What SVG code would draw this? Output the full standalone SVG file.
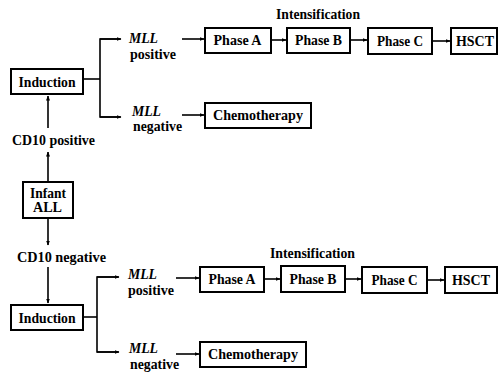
<svg xmlns="http://www.w3.org/2000/svg" width="500" height="374" viewBox="0 0 500 374">
<defs>
<marker id="ah" viewBox="0 0 10 10" refX="9" refY="5" markerWidth="5" markerHeight="5" orient="auto" markerUnits="userSpaceOnUse">
<path d="M0,1 L10,5 L0,9 z" fill="#000"/>
</marker>
<style>
.box{fill:#fff;stroke:#000;stroke-width:2}
.t{font-family:"Liberation Serif","Times New Roman",serif;font-weight:bold;font-size:14px;fill:#000}
.c{text-anchor:middle}
.i{font-style:italic}
.ln{fill:none;stroke:#000;stroke-width:1.6}
.ar{fill:none;stroke:#000;stroke-width:1.6;marker-end:url(#ah)}
</style>
</defs>
<rect width="500" height="374" fill="#fff"/>

<g id="connectors">
<line class="ar" x1="48" y1="128" x2="48" y2="96"/>
<line class="ar" x1="48" y1="181" x2="48" y2="152"/>
<polyline class="ln" points="83,79 100,79"/>
<polyline class="ln" points="120,39 100,39 100,117 120,117"/>
<line class="ar" x1="100" y1="39" x2="121" y2="39"/>
<line class="ar" x1="100" y1="117" x2="121" y2="117"/>
<line class="ar" x1="182" y1="39" x2="204" y2="39"/>
<line class="ar" x1="182" y1="115" x2="204" y2="115"/>
<line class="ar" x1="271" y1="40" x2="286" y2="40"/>
<line class="ar" x1="350" y1="40" x2="367" y2="40"/>
<line class="ar" x1="432" y1="41" x2="450" y2="41"/>
<line class="ar" x1="48" y1="219" x2="48" y2="245"/>
<line class="ar" x1="48" y1="267" x2="48" y2="303"/>
<polyline class="ln" points="83,317 97,317"/>
<polyline class="ln" points="118,277 97,277 97,352 118,352"/>
<line class="ar" x1="97" y1="277" x2="119" y2="277"/>
<line class="ar" x1="97" y1="352" x2="119" y2="352"/>
<line class="ar" x1="176" y1="278" x2="199" y2="278"/>
<line class="ar" x1="176" y1="354" x2="199" y2="354"/>
<line class="ar" x1="264" y1="279" x2="280" y2="279"/>
<line class="ar" x1="345" y1="279" x2="361" y2="279"/>
<line class="ar" x1="427" y1="280" x2="444" y2="280"/>
</g>

<g id="induction-top">
<rect class="box" x="11" y="69" width="72" height="25"/>
<text class="t c" x="47" y="87" textLength="57" lengthAdjust="spacingAndGlyphs">Induction</text>
</g>
<g id="cd10-positive">
<text class="t" x="12" y="145" textLength="83" lengthAdjust="spacingAndGlyphs">CD10 positive</text>
</g>
<g id="mll-positive-top">
<text class="t i" x="129" y="43" textLength="29" lengthAdjust="spacingAndGlyphs">MLL</text>
<text class="t" x="130" y="59" textLength="46" lengthAdjust="spacingAndGlyphs">positive</text>
</g>
<g id="mll-negative-top">
<text class="t i" x="132" y="116" textLength="29" lengthAdjust="spacingAndGlyphs">MLL</text>
<text class="t" x="133" y="131" textLength="49" lengthAdjust="spacingAndGlyphs">negative</text>
</g>
<g id="intensification-top">
<text class="t" x="276" y="19" textLength="84" lengthAdjust="spacingAndGlyphs">Intensification</text>
</g>
<g id="phaseA-top">
<rect class="box" x="205" y="28" width="66" height="25"/>
<text class="t c" x="237.5" y="45" textLength="48" lengthAdjust="spacingAndGlyphs">Phase A</text>
</g>
<g id="phaseB-top">
<rect class="box" x="287" y="28" width="63" height="25"/>
<text class="t c" x="318.5" y="45" textLength="47" lengthAdjust="spacingAndGlyphs">Phase B</text>
</g>
<g id="phaseC-top">
<rect class="box" x="368" y="28" width="64" height="26"/>
<text class="t c" x="400" y="46" textLength="46" lengthAdjust="spacingAndGlyphs">Phase C</text>
</g>
<g id="hsct-top">
<rect class="box" x="451" y="28" width="46" height="26"/>
<text class="t c" x="475" y="46" textLength="38" lengthAdjust="spacingAndGlyphs">HSCT</text>
</g>
<g id="chemo-top">
<rect class="box" x="205" y="103" width="106" height="25"/>
<text class="t c" x="258" y="120" textLength="90" lengthAdjust="spacingAndGlyphs">Chemotherapy</text>
</g>

<g id="infant-all">
<rect class="box" x="23" y="182" width="50" height="36"/>
<text class="t c" x="48" y="198" textLength="36" lengthAdjust="spacingAndGlyphs">Infant</text>
<text class="t c" x="47.5" y="212" textLength="29" lengthAdjust="spacingAndGlyphs">ALL</text>
</g>

<g id="cd10-negative">
<text class="t" x="17" y="262" textLength="89" lengthAdjust="spacingAndGlyphs">CD10 negative</text>
</g>
<g id="induction-bottom">
<rect class="box" x="11" y="305" width="72" height="25"/>
<text class="t c" x="47" y="323" textLength="57" lengthAdjust="spacingAndGlyphs">Induction</text>
</g>
<g id="mll-positive-bottom">
<text class="t i" x="128" y="279" textLength="29" lengthAdjust="spacingAndGlyphs">MLL</text>
<text class="t" x="128" y="295" textLength="46" lengthAdjust="spacingAndGlyphs">positive</text>
</g>
<g id="mll-negative-bottom">
<text class="t i" x="129" y="353" textLength="29" lengthAdjust="spacingAndGlyphs">MLL</text>
<text class="t" x="130" y="369" textLength="49" lengthAdjust="spacingAndGlyphs">negative</text>
</g>
<g id="intensification-bottom">
<text class="t" x="270" y="258" textLength="85" lengthAdjust="spacingAndGlyphs">Intensification</text>
</g>
<g id="phaseA-bottom">
<rect class="box" x="200" y="267" width="64" height="25"/>
<text class="t c" x="232" y="284" textLength="47" lengthAdjust="spacingAndGlyphs">Phase A</text>
</g>
<g id="phaseB-bottom">
<rect class="box" x="281" y="266" width="64" height="26"/>
<text class="t c" x="313" y="284" textLength="47" lengthAdjust="spacingAndGlyphs">Phase B</text>
</g>
<g id="phaseC-bottom">
<rect class="box" x="362" y="267" width="65" height="26"/>
<text class="t c" x="394.5" y="285" textLength="46" lengthAdjust="spacingAndGlyphs">Phase C</text>
</g>
<g id="hsct-bottom">
<rect class="box" x="445" y="267" width="52" height="26"/>
<text class="t c" x="471" y="285" textLength="38" lengthAdjust="spacingAndGlyphs">HSCT</text>
</g>
<g id="chemo-bottom">
<rect class="box" x="200" y="342" width="106" height="25"/>
<text class="t c" x="253" y="359" textLength="90" lengthAdjust="spacingAndGlyphs">Chemotherapy</text>
</g>
</svg>
